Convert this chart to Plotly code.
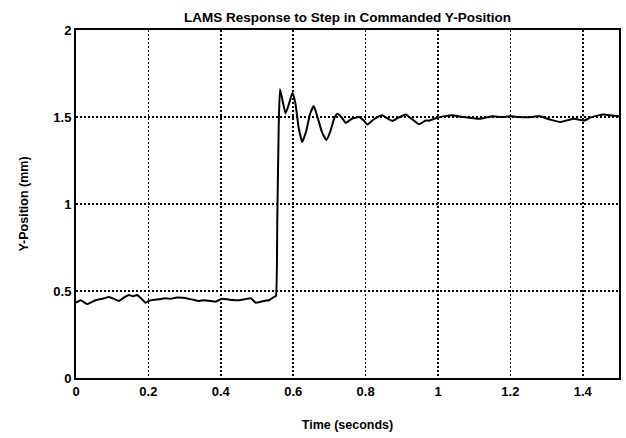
import plotly.graph_objects as go

time_s = [0.000, 0.006, 0.013, 0.022, 0.031, 0.042, 0.054, 0.066, 0.078, 0.091,
          0.105, 0.119, 0.132, 0.146, 0.158, 0.169, 0.181, 0.192, 0.205, 0.217,
          0.229, 0.245, 0.262, 0.278, 0.294, 0.310, 0.325, 0.340, 0.355, 0.370,
          0.386, 0.404, 0.418, 0.433, 0.450, 0.465, 0.483, 0.496, 0.510, 0.522,
          0.533, 0.547,
          0.552, 0.556, 0.560, 0.5635, 0.570, 0.579, 0.589, 0.598, 0.606, 0.615,
          0.625, 0.636, 0.647, 0.657, 0.667, 0.680, 0.692, 0.703, 0.713, 0.722,
          0.733, 0.745, 0.762, 0.782, 0.795, 0.805, 0.825, 0.846, 0.860, 0.874,
          0.892, 0.911, 0.930, 0.948, 0.966, 0.975, 0.990, 1.003, 1.020, 1.040,
          1.058, 1.077, 1.095, 1.115, 1.135, 1.152, 1.175, 1.199, 1.222, 1.245,
          1.265, 1.282, 1.310, 1.338, 1.358, 1.376, 1.403, 1.422, 1.440, 1.459,
          1.480, 1.500]
y_pos_mm = [0.433, 0.440, 0.447, 0.436, 0.424, 0.435, 0.447, 0.452, 0.458, 0.466,
            0.455, 0.443, 0.462, 0.477, 0.470, 0.477, 0.455, 0.433, 0.446, 0.450,
            0.452, 0.458, 0.455, 0.463, 0.461, 0.456, 0.449, 0.443, 0.447, 0.443,
            0.439, 0.456, 0.452, 0.448, 0.447, 0.452, 0.458, 0.433, 0.438, 0.444,
            0.447, 0.466,
            0.470, 0.900, 1.450, 1.660, 1.600, 1.520, 1.580, 1.640, 1.580, 1.440,
            1.356, 1.420, 1.520, 1.563, 1.500, 1.410, 1.368, 1.420, 1.490, 1.519,
            1.500, 1.467, 1.490, 1.500, 1.480, 1.457, 1.490, 1.510, 1.492, 1.477,
            1.498, 1.515, 1.485, 1.458, 1.480, 1.479, 1.490, 1.498, 1.505, 1.510,
            1.503, 1.498, 1.494, 1.490, 1.498, 1.504, 1.500, 1.504, 1.500, 1.498,
            1.502, 1.504, 1.485, 1.471, 1.482, 1.490, 1.479, 1.498, 1.508, 1.514,
            1.508, 1.504]

x_ticks = [0, 0.2, 0.4, 0.6, 0.8, 1.0, 1.2, 1.4]
x_tick_labels = ["0", "0.2", "0.4", "0.6", "0.8", "1", "1.2", "1.4"]
y_ticks = [0, 0.5, 1.0, 1.5, 2.0]
y_tick_labels = ["0", "0.5", "1", "1.5", "2"]

font_family = "Liberation Sans, Arial, sans-serif"

fig = go.Figure()
fig.add_trace(go.Scatter(x=time_s, y=y_pos_mm, mode="lines",
                         line=dict(color="black", width=2, shape="spline", smoothing=0.4),
                         showlegend=False, hoverinfo="skip"))

axis_common = dict(showgrid=True, gridcolor="black", gridwidth=1.5, griddash="2px,2px",
                   zeroline=False, showline=True, linecolor="black", linewidth=2,
                   mirror=True, ticks="",
                   tickfont=dict(family=font_family, size=13, color="black", weight="bold"))

fig.update_layout(
    width=626, height=438,
    margin=dict(l=76, r=5, t=30, b=60),
    paper_bgcolor="white", plot_bgcolor="white",
    font=dict(family=font_family, color="black"),
    title=dict(text="LAMS Response to Step in Commanded Y-Position",
               xref="paper", x=0.5, xanchor="center", y=0.96, yanchor="middle",
               font=dict(family=font_family, size=13.5, color="black", weight="bold")),
    xaxis=dict(range=[0, 1.5], tickvals=x_ticks, ticktext=x_tick_labels,
               title=dict(text="Time (seconds)",
                          font=dict(size=12.5, weight="bold"), standoff=23),
               **axis_common),
    yaxis=dict(range=[0, 2], tickvals=y_ticks, ticktext=y_tick_labels,
               title=dict(text="Y-Position (mm)",
                          font=dict(size=12.5, weight="bold"), standoff=22),
               **axis_common),
)

fig.write_html("out.html", config={"displayModeBar": False, "staticPlot": True},
               post_script="document.body.style.margin='0';document.body.style.overflow='hidden';")
